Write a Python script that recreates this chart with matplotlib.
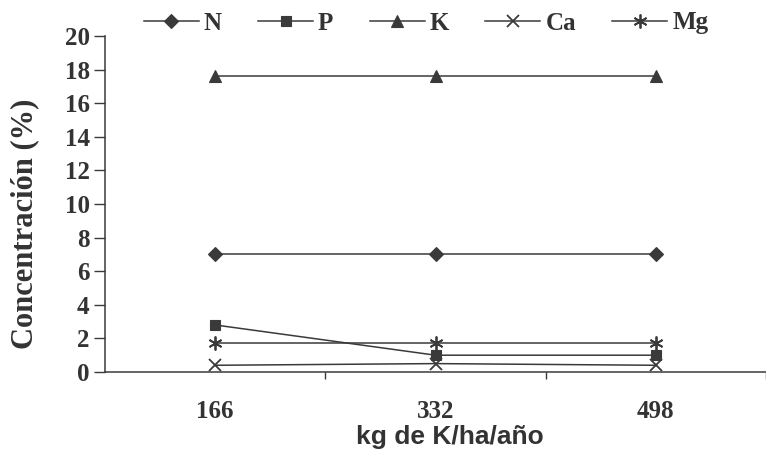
import numpy as np
import matplotlib
matplotlib.use('Agg')
from matplotlib import pyplot as plt

categories = ['166', '332', '498']
N = [7.0, 7.0, 7.0]
P = [2.8, 1.0, 1.0]
K = [17.6, 17.6, 17.6]
Ca = [0.4, 0.5, 0.4]
Mg = [1.7, 1.7, 1.7]

series = [('N', N, 'D', 7), ('P', P, 's', 7), ('K', K, '^', 8),
          ('Ca', Ca, 'x', 9), ('Mg', Mg, (6, 2, 0), 10)]

serif = 'Liberation Serif'
col = '#3a3a3a'

fig = plt.figure(figsize=(7.66, 4.55), dpi=100)
ax = fig.add_axes([105/766, 83/455, 1 - 105/766, 336/455])

x = np.arange(1, len(categories) + 1)
for name, vals, mk, ms in series:
    ax.plot(x, vals, color=col, lw=1.1, marker=mk, markersize=ms,
            markeredgewidth=1.3 if mk in ('x', (6, 2, 0)) else 0.8,
            markerfacecolor=col, markeredgecolor=col, label=name)

ax.set_xlim(0.5, 0.5 + 661/222)
ax.set_ylim(0, 20)
ax.set_yticks(np.arange(0, 21, 2))
ax.set_xticks([1.5, 2.5, 3.5])
ax.set_xticklabels([])
ax.set_xticks(x, minor=True)
ax.set_xticklabels(categories, minor=True)
ax.tick_params(axis='x', which='minor', length=0, pad=20)
ax.tick_params(axis='x', which='major', length=5, width=1, color=col)
ax.tick_params(axis='y', length=8, width=1, color=col, pad=3)
for lab in ax.get_yticklabels() + ax.get_xticklabels(minor=True):
    lab.set_fontfamily(serif)
    lab.set_fontweight('bold')
    lab.set_fontsize(18)
    lab.set_color('#333333')
for s in ['top', 'right']:
    ax.spines[s].set_visible(False)
for s in ['left', 'bottom']:
    ax.spines[s].set_color(col)
    ax.spines[s].set_linewidth(1.1)

fig.text(25/766, 1 - 224/455, 'Concentración (%)', rotation=90, ha='center', va='center',
         fontfamily=serif, fontweight='bold', fontsize=22, color='#333333')
fig.text(450/766, 1 - 437/455, 'kg de K/ha/año', ha='center', va='center',
         fontfamily='Liberation Sans', fontweight='bold', fontsize=19, color='#333333')

fig.legend(loc='center', bbox_to_anchor=(426/766, 1 - 23/455), ncol=5, frameon=False,
           handlelength=2.2, handletextpad=0.2, columnspacing=1.45,
           prop={'family': serif, 'weight': 'bold', 'size': 18}, labelcolor='#333333')

fig.savefig('out.png', dpi=100, facecolor='white')
